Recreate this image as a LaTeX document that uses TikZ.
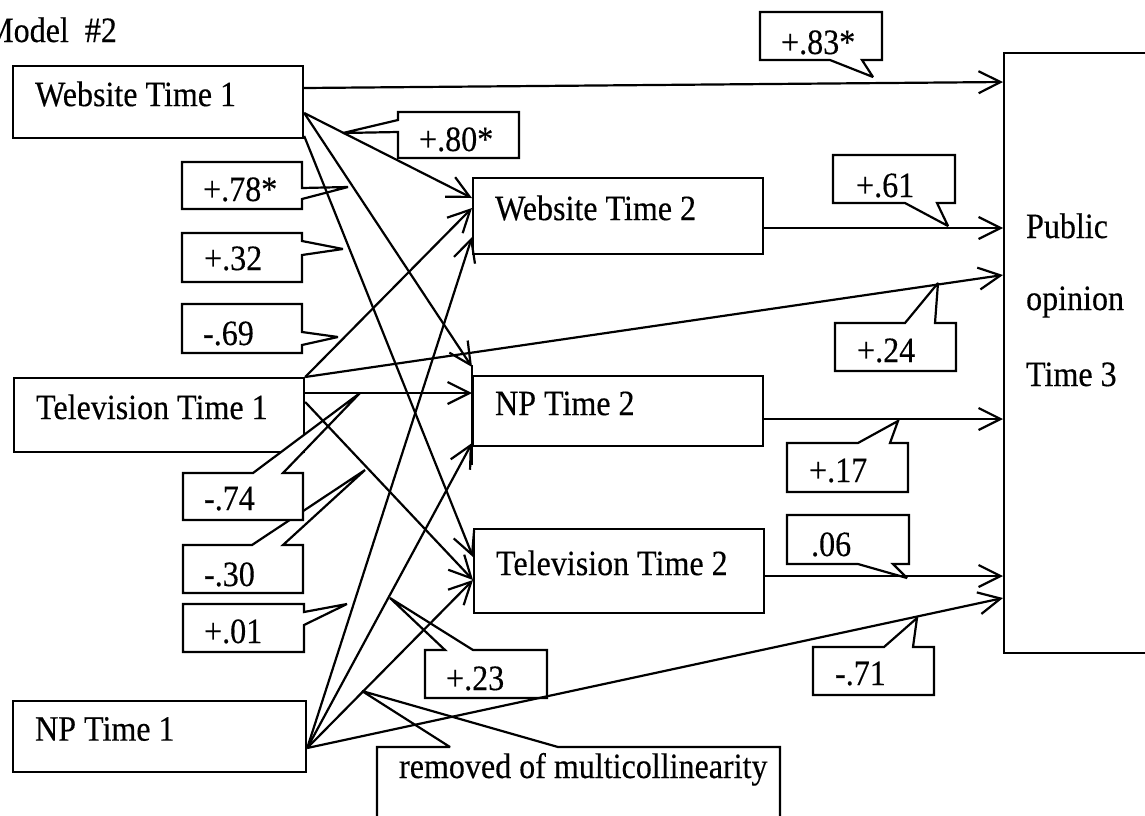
\documentclass[tikz,border=0pt]{standalone}
\usepackage{fontspec}
\setmainfont{Liberation Serif}[FakeStretch=0.9,FakeBold=0.3]
\usetikzlibrary{arrows.meta}

\tikzset{
  box/.style={draw, fill=white, anchor=north west, minimum width=145pt, text width=123pt,
    inner xsep=11pt, inner ysep=0pt, align=flush left, text height=10pt, text depth=6pt},
  callout/.style={draw, fill=white, miter limit=3},
  num/.style={anchor=base west, inner sep=0pt}
}

\begin{document}
\begin{tikzpicture}[x=0.5pt,y=-0.5pt,line width=1.1pt,
  >={Straight Barb[length=11pt,width=11pt]},font=\fontsize{17.8}{20}\selectfont]
\useasboundingbox (0,0) rectangle (1145,815);
\clip (0,0) rectangle (1145,815);

\node[anchor=base east,inner sep=0pt] (title) at (118,42) {Model~ \#2};

% time 1
\node[box,minimum height=36pt] (wt1) at (12,65) {Website Time 1};
\node[box,minimum height=37pt] (tv1) at (13,377) {Television Time 1};
\node[box,minimum height=35.5pt,minimum width=146.5pt,text width=124.5pt] (np1) at (12,700) {NP Time 1};

% time 2
\node[box,minimum height=38pt] (wt2) at (472,177) {Website Time 2};
\node[box,minimum height=35pt] (np2) at (472,375) {NP Time 2};
\draw ([yshift=5pt]np2.north west) -- ([yshift=-9pt]np2.south west);
\node[box,minimum height=42pt] (tv2) at (473,528) {Television Time 2};

% time 3
\node[draw,fill=white,anchor=north west,minimum width=85pt,minimum height=300pt,inner sep=0pt] (po) at (1003,52) {};
\node[num] (po1) at (1025,238) {Public};
\node[num] (po2) at (1025,310) {opinion};
\node[num] (po3) at (1025,386) {Time 3};

% coefficients
\draw[callout] (760,12) -- (882,12) -- (882,60) -- (862,60) -- (873,77) -- (830,60) -- (760,60) -- cycle;
\node[num] (l83) at (780,54) {+.83*};

\draw[callout] (398,112) -- (519,112) -- (519,158) -- (398,158) -- (398,132) -- (343,133) -- (398,120) -- cycle;
\node[num] (l80) at (418,151) {+.80*};

\draw[callout] (182,162) -- (302,162) -- (302,188) -- (348,187) -- (302,199) -- (302,209) -- (182,209) -- cycle;
\node[num] (l78) at (202,201) {+.78*};

\draw[callout] (182,233) -- (302,233) -- (302,241) -- (343,249) -- (302,255) -- (302,282) -- (182,282) -- cycle;
\node[num] (l32) at (203,270) {+.32};

\draw[callout] (182,304) -- (302,304) -- (302,332) -- (338,337) -- (302,345) -- (302,353) -- (182,353) -- cycle;
\node[num] (l69) at (202,345) {-.69};

\draw[callout] (183,545) -- (252,545) -- (365,470) -- (283,545) -- (303,545) -- (303,593) -- (183,593) -- cycle;
\node[num] (l30) at (203,586) {-.30};

\draw[callout] (183,473) -- (253,473) -- (360,393) -- (283,473) -- (303,473) -- (303,520) -- (183,520) -- cycle;
\node[num] (l74) at (203,510) {-.74};

\draw[callout] (183,604) -- (304,604) -- (304,612) -- (347,604) -- (304,625) -- (304,652) -- (183,652) -- cycle;
\node[num] (l01) at (203,643) {+.01};

\draw[callout] (425,650) -- (445,650) -- (390,598) -- (473,650) -- (547,650) -- (547,698) -- (425,698) -- cycle;
\node[num] (l23) at (445,690) {+.23};

\draw[callout] (377,747) -- (450,747) -- (362,691) -- (558,747) -- (780,747) -- (780,835) -- (377,835) -- cycle;
\node[num] (note) at (398,778) {removed of multicollinearity};

\draw[callout] (833,155) -- (955,155) -- (955,203) -- (937,203) -- (948,226) -- (905,203) -- (833,203) -- cycle;
\node[num] (l61) at (855,197) {+.61};

\draw[callout] (835,323) -- (905,323) -- (938,283) -- (935,323) -- (956,323) -- (956,371) -- (835,371) -- cycle;
\node[num] (l24) at (856,362) {+.24};

\draw[callout] (787,443) -- (858,443) -- (898,421) -- (890,443) -- (908,443) -- (908,492) -- (787,492) -- cycle;
\node[num] (l17) at (808,482) {+.17};

\draw[callout] (787,515) -- (909,515) -- (909,564) -- (893,564) -- (907,578) -- (858,564) -- (787,564) -- cycle;
\node[num] (l06) at (810,556) {.06};

\draw[callout] (813,647) -- (884,647) -- (917,618) -- (913,647) -- (934,647) -- (934,695) -- (813,695) -- cycle;
\node[num] (l71) at (834,685) {-.71};

% paths
\draw[->] (wt1.east |- 0,88) -- (po.west |- 0,82);
\draw[->] (wt1.east |- 0,113) -- (wt2.west |- 0,198);
\draw[->] (wt1.east |- 0,113) -- (np2.west |- 0,367);
\draw[->] (wt1.east |- 0,136) -- (tv2.west |- 0,557);

\draw[->] (tv1.east |- 0,377) -- (wt2.west |- 0,208);
\draw[->] (tv1.east |- 0,377) -- (po.west |- 0,275);
\draw[->] (tv1.east |- 0,393) -- (np2.west |- 0,393);
\draw[->] (tv1.east |- 0,402) -- (tv2.west |- 0,580);

\draw[->] (np1.east |- 0,748) -- (wt2.west |- 0,237);
\draw[->] (np1.east |- 0,748) -- (np2.west |- 0,443);
\draw[->] (np1.east |- 0,748) -- (tv2.west |- 0,580);
\draw[->] (np1.east |- 0,748) -- (po.west |- 0,598);

\draw[->] (wt2.east |- 0,228) -- (po.west |- 0,228);
\draw[->] (np2.east |- 0,419) -- (po.west |- 0,419);
\draw[->] (tv2.east |- 0,576) -- (po.west |- 0,576);

\end{tikzpicture}
\end{document}
